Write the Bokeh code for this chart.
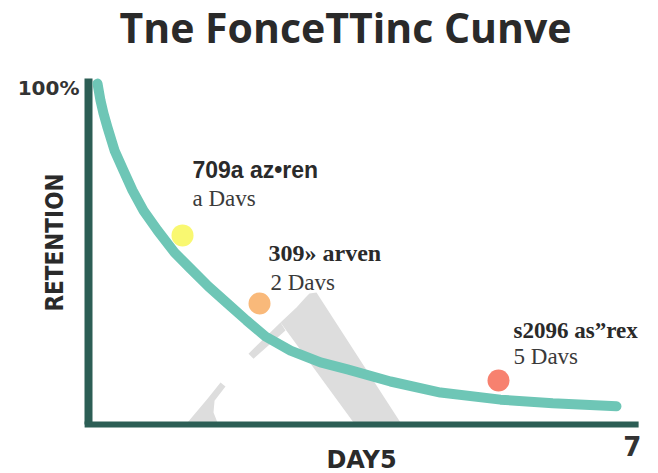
from bokeh.plotting import figure
from bokeh.models import Range1d, Label
from bokeh.embed import file_html
from bokeh.resources import INLINE
import math

# ---- data (days, retention %) ----
curve_days = [0.116, 0.154, 0.193, 0.245, 0.335, 0.450, 0.566, 0.708, 0.888, 1.107,
              1.313, 1.544, 1.789, 2.033, 2.278, 2.600, 2.986, 3.333, 3.887, 4.530,
              5.302, 5.975, 6.795]
curve_ret = [101.5, 96.5, 92.6, 88.4, 81.6, 75.6, 69.7, 63.7, 57.8, 51.2,
             46.4, 41.1, 36.0, 31.0, 26.2, 22.0, 18.5, 16.4, 12.8, 9.5,
             7.4, 6.3, 5.4]

point_days = [1.210, 2.201, 5.277]
point_ret = [56.3, 36.0, 13.1]
point_colors = ["#f9f871", "#f9b97a", "#f7816f"]

note_titles = ["709a az\u2022ren", "309\u00bb arven", "s2096 as\u201drex"]
note_subs = ["a Davs", "2 Davs", "5 Davs"]
note_title_days = [1.338, 2.317, 5.470]
note_title_ret = [72.9, 48.2, 25.3]
note_sub_days = [1.338, 2.342, 5.470]
note_sub_ret = [64.6, 39.6, 17.6]

# axis extents (days, %)
axis_x = [0.0, 7.08]
axis_y = [0.0, 103.0]
y_tick_value = 100
y_tick_label = "100%"
x_tick_value = 7
x_tick_label = "7"

title_text = "Tne FonceTTinc Cunve"
x_title = "DAY5"
y_title = "RETENTION"

# faint background watermark shape (days, %)
wm_xs = [[2.844, 2.934, 4.015, 3.411, 2.471, 2.677, 2.793],
         [2.059, 2.124, 2.535, 2.471],
         [1.699, 1.763, 1.622, 1.609, 1.660, 1.274, 1.532]]
wm_ys = [[39.0, 39.3, 0.6, 0.6, 30.4, 34.8, 37.8],
         [21.1, 19.6, 28.0, 30.4],
         [12.5, 11.3, 7.1, 3.6, 0.6, 0.6, 7.7]]

AXIS = "#2c5e55"
TEAL = "#6ec6b6"
TEXT = "#2a2a2a"

W, H = 658, 473
PX_PER_DAY = 77.7
PX_PER_PCT = 3.359
X0_PX, Y0_PX = 88, 424  # where (0 days, 0 %) sits on the canvas

p = figure(width=W, height=H,
           x_range=Range1d(-X0_PX / PX_PER_DAY, (W - X0_PX) / PX_PER_DAY),
           y_range=Range1d(-(H - Y0_PX) / PX_PER_PCT, Y0_PX / PX_PER_PCT),
           x_axis_type=None, y_axis_type=None,
           output_backend="svg", toolbar_location=None,
           min_border=0, min_border_left=0, min_border_right=0,
           min_border_top=0, min_border_bottom=0)
p.outline_line_color = None
p.grid.visible = False
p.background_fill_color = "white"
p.border_fill_color = "white"


def lab(x, y, text, font, size, bold=True, color=TEXT, align="left", angle=0.0,
        baseline="alphabetic"):
    # baseline correction: the renderer draws the alphabetic baseline ~0.4em low
    shift = 0.4 * size / PX_PER_PCT if baseline == "alphabetic" else 0.0
    p.add_layout(Label(x=x, y=y + shift, text=text, text_font=font,
                       text_font_style="bold" if bold else "normal",
                       text_font_size=f"{size}px", text_color=color,
                       text_align=align, text_baseline=baseline, angle=angle))


# watermark, axis lines, curve, points
p.patches(wm_xs, wm_ys, fill_color="#dddddd", line_color=None)
p.line([axis_x[0], axis_x[0]], axis_y, line_color=AXIS, line_width=8)
p.line([axis_x[0] - 0.05, axis_x[1]], [axis_y[0], axis_y[0]], line_color=AXIS, line_width=6)
p.line(curve_days, curve_ret, line_color=TEAL, line_width=10, line_cap="round", line_join="round")
p.scatter(point_days, point_ret, size=22, fill_color=point_colors, line_color=None)

fonts = ["Liberation Sans", "Liberation Serif", "Liberation Serif"]
sizes = [23, 24, 23]
for i in range(3):
    lab(note_title_days[i], note_title_ret[i], note_titles[i], fonts[i], sizes[i])
    lab(note_sub_days[i], note_sub_ret[i], note_subs[i], "Liberation Serif", 23,
        bold=False, color="#3a3a3a")

# tick labels
lab(axis_x[0] - 0.116, y_tick_value - 2.1, y_tick_label, "DejaVu Sans", 20,
    color="#333333", align="right")
lab(x_tick_value, -9.53, x_tick_label, "DejaVu Sans", 26, color="#333333", align="center")

# titles
lab(3.3076, 113.4, title_text, "Open Sans", 41, align="center")
lab(3.514, -13.39, x_title, "DejaVu Sans", 24, align="center")
lab(-0.425, 54.18, y_title,
    "'DejaVu Sans Condensed', 'Liberation Sans Narrow', Roboto, sans-serif", 24,
    align="center", angle=math.pi / 2, baseline="middle")

open("out.html", "w").write(file_html(p, INLINE))
